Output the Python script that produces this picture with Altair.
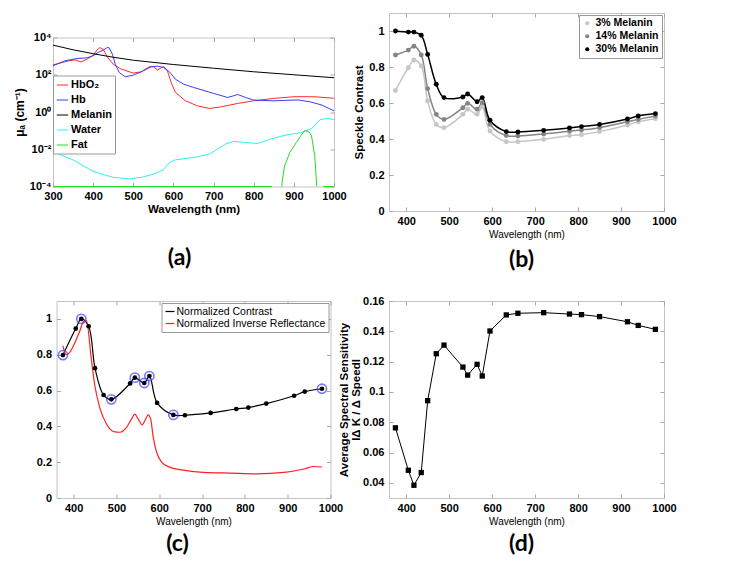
import altair as alt
import pandas as pd

# ---------------- Panel (a): absorption spectra (log10 of mu_a) ----------------
hbo2_wl = [300, 340, 355, 370, 385, 400, 410, 417, 425, 435, 450, 470, 500, 520, 540, 550, 560, 567,
           576, 585, 595, 605, 630, 660, 690, 720, 760, 800, 850, 900, 950, 1000]
hbo2_log = [2.53, 2.75, 2.8, 2.69, 2.84, 3.05, 3.34, 3.46, 3.37, 2.96, 2.57, 2.3, 2.09, 2.16, 2.43, 2.43,
            2.26, 2.34, 2.44, 2.21, 1.55, 1.05, 0.6, 0.33, 0.19, 0.28, 0.46, 0.6, 0.73, 0.82, 0.82, 0.74]
hb_wl = [300, 330, 360, 385, 400, 415, 425, 435, 440, 448, 455, 465, 480, 500, 520, 545, 560, 575, 590,
         605, 625, 650, 700, 735, 750, 760, 780, 800, 850, 910, 940, 970, 1000]
hb_log = [2.48, 2.75, 2.87, 2.91, 3.02, 3.23, 3.32, 3.46, 3.45, 3.1, 2.57, 2.12, 1.89, 1.98, 2.16, 2.43,
          2.46, 2.39, 2.16, 1.76, 1.5, 1.32, 1.0, 0.78, 0.87, 0.94, 0.78, 0.64, 0.6, 0.65, 0.55, 0.37, 0.06]
melanin_wl = [300, 350, 400, 450, 500, 600, 700, 800, 900, 1000]
melanin_log = [3.59, 3.34, 3.13, 2.94, 2.78, 2.55, 2.35, 2.16, 2.0, 1.84]
water_wl = [300, 350, 400, 450, 490, 520, 550, 575, 590, 605, 650, 690, 710, 730, 750, 780, 810, 840,
            880, 920, 945, 965, 985, 1000]
water_log = [-2.14, -2.57, -3.19, -3.51, -3.59, -3.51, -3.34, -3.1, -2.71, -2.57, -2.44, -2.26, -1.99,
             -1.72, -1.58, -1.64, -1.69, -1.46, -1.24, -1.1, -0.88, -0.42, -0.33, -0.42]
fat_wl = [300, 845, 870, 871, 877, 890, 906, 918, 927, 937, 944, 952, 956, 957, 973, 1000]
fat_log = [-4, -4, -4, -3.7, -2.9, -2.17, -1.64, -1.25, -1.0, -1.05, -1.28, -2.35, -3.7, -4, -4, -4]
fat_seg = [1, 1, 2, 2, 2, 2, 2, 2, 2, 2, 2, 2, 2, 2, 3, 3]

species = ["HbO₂", "Hb", "Melanin", "Water", "Fat"]
species_colors = ["#ff2b2b", "#3b3bff", "#000000", "#2ff0f0", "#22dd22"]
x_ticks_a = [300, 400, 500, 600, 700, 800, 900, 1000]
y_ticks_a = [-4, -2, 0, 2, 4]

# ---------------- Panels (b), (c), (d): measurement wavelengths ----------------
wl_pts = [375, 405, 418, 435, 450, 470, 488, 532, 543, 565, 577, 595, 633, 660, 720, 780, 808, 850,
          915, 940, 980]
x_ticks = [400, 500, 600, 700, 800, 900, 1000]
y_ticks_bc = [0, 0.2, 0.4, 0.6, 0.8, 1.0]
y_ticks_d = [0.04, 0.06, 0.08, 0.1, 0.12, 0.14, 0.16]
melanin_levels = ["3% Melanin", "14% Melanin", "30% Melanin"]
melanin_colors = ["#c6c6c6", "#858585", "#000000"]
sc_3 = [0.670, 0.796, 0.839, 0.806, 0.611, 0.481, 0.463, 0.537, 0.565, 0.537, 0.578, 0.444, 0.385,
        0.385, 0.398, 0.419, 0.424, 0.441, 0.478, 0.496, 0.513]
sc_14 = [0.867, 0.894, 0.915, 0.867, 0.680, 0.537, 0.509, 0.574, 0.598, 0.565, 0.602, 0.481, 0.419,
         0.417, 0.428, 0.443, 0.450, 0.463, 0.496, 0.509, 0.528]
sc_30 = [1.000, 0.994, 0.994, 0.976, 0.870, 0.704, 0.630, 0.633, 0.650, 0.607, 0.630, 0.504, 0.441,
         0.439, 0.448, 0.461, 0.469, 0.481, 0.511, 0.528, 0.541]

# (c)
norm_contrast = [0.798, 0.946, 1.000, 0.959, 0.725, 0.575, 0.551, 0.640, 0.672, 0.642, 0.681, 0.531,
                 0.464, 0.462, 0.475, 0.497, 0.505, 0.527, 0.571, 0.594, 0.610]
ring_flags = [1, 0, 1, 0, 0, 0, 1, 0, 1, 1, 1, 0, 1, 0, 0, 0, 0, 0, 0, 0, 1]
refl_wl = [375, 383, 390, 400, 414, 423, 430, 441, 449, 461, 477, 496, 508, 523, 535, 543, 551, 560,
           568, 574, 580, 586, 594, 605, 625, 656, 703, 766, 828, 891, 938, 961, 980]
refl_val = [0.85, 0.80, 0.81, 0.853, 0.93, 0.985, 0.99, 0.783, 0.635, 0.505, 0.412, 0.369, 0.367, 0.393,
            0.44, 0.468, 0.44, 0.408, 0.44, 0.464, 0.44, 0.338, 0.254, 0.202, 0.171, 0.156, 0.143, 0.139,
            0.135, 0.143, 0.162, 0.176, 0.173]
c_series = ["Normalized Contrast", "Normalized Inverse Reflectance"]

# (d)
sensitivity = [0.0763, 0.0483, 0.0384, 0.0468, 0.0942, 0.1252, 0.1309, 0.1164, 0.1111, 0.1182, 0.1105,
               0.1402, 0.1508, 0.1519, 0.1523, 0.1514, 0.1510, 0.1497, 0.1463, 0.1439, 0.1413]

# ---------------- build tables ----------------
rows = []
for name, wls, vals in [("HbO₂", hbo2_wl, hbo2_log), ("Hb", hb_wl, hb_log),
                        ("Melanin", melanin_wl, melanin_log), ("Water", water_wl, water_log)]:
    for w, v in zip(wls, vals):
        rows.append({"wl": w, "mu": v, "species": name, "seg": name})
for w, v, s in zip(fat_wl, fat_log, fat_seg):
    rows.append({"wl": w, "mu": v, "species": "Fat", "seg": f"Fat{s}"})
df_a = pd.DataFrame(rows)

rows = []
for lvl, vals in zip(melanin_levels, [sc_3, sc_14, sc_30]):
    for w, v in zip(wl_pts, vals):
        rows.append({"wl": w, "sc": v, "level": lvl})
df_b = pd.DataFrame(rows)

df_c_black = pd.DataFrame({"wl": wl_pts, "v": norm_contrast, "series": c_series[0]})
df_c_red = pd.DataFrame({"wl": refl_wl, "v": refl_val, "series": c_series[1]})
df_c_pts = pd.DataFrame({"wl": wl_pts, "v": norm_contrast, "ring": ring_flags})
df_d = pd.DataFrame({"wl": wl_pts, "s": sensitivity})

BOLD = "Liberation Sans"
LABEL_FONT = "Lato"
TICK_GRAY = "#a8a8a8"


def panel_title(txt, offset, dx):
    return alt.TitleParams(txt, orient="bottom", anchor="middle", frame="group", font=LABEL_FONT,
                           fontSize=23, fontWeight="bold", offset=offset, dx=dx, color="black")


def inner_ticks(df, xf, yf, xs, ys, xv, yv):
    """Two invisible layers whose axes draw MATLAB-style inward ticks on all four sides."""
    layers = []
    for xo, yo in [("bottom", "left"), ("top", "right")]:
        layers.append(alt.Chart(df).mark_point(opacity=0).encode(
            x=alt.X(xf, scale=xs, axis=alt.Axis(orient=xo, values=xv, labels=False, domain=False,
                                                ticks=True, tickSize=4, tickColor=TICK_GRAY,
                                                offset=-4, title=None, grid=False)),
            y=alt.Y(yf, scale=ys, axis=alt.Axis(orient=yo, values=yv, labels=False, domain=False,
                                                ticks=True, tickSize=4, tickColor=TICK_GRAY,
                                                offset=-4, title=None, grid=False))))
    return layers


def x_axis_small():
    return alt.Axis(values=x_ticks, format="d", title="Wavelength (nm)",
                    labelFont=BOLD, labelFontSize=11, labelFontWeight="bold", labelPadding=4,
                    titleFont=BOLD, titleFontSize=10, titleFontWeight="normal", titlePadding=3,
                    labelFlush=False)


x_scale_pts = alt.Scale(domain=[360, 1000], nice=False)

# ---------------- (a) ----------------
label_expr_a = ("'10' + (datum.value == 4 ? '⁴' : datum.value == 2 ? '²' : datum.value == 0 ? '⁰' : "
                "datum.value == -2 ? '⁻²' : '⁻⁴')")
a_xs = alt.Scale(domain=[300, 1000], nice=False)
a_ys = alt.Scale(domain=[-4, 4], nice=False)
a_lines = alt.Chart(df_a).mark_line(strokeWidth=1).encode(
    x=alt.X("wl:Q", scale=a_xs,
            axis=alt.Axis(orient="bottom", values=x_ticks_a, format="d", title="Wavelength (nm)",
                          labelFont=BOLD, labelFontSize=11, labelFontWeight="bold", labelPadding=4,
                          titleFont=BOLD, titleFontSize=11.5, titleFontWeight="bold", titlePadding=2,
                          labelFlush=False)),
    y=alt.Y("mu:Q", scale=a_ys,
            axis=alt.Axis(orient="left", values=y_ticks_a, labelExpr=label_expr_a, title="μₐ (cm⁻¹)",
                          labelFont=BOLD, labelFontSize=11, labelFontWeight="bold", labelPadding=2,
                          titleFont=BOLD, titleFontSize=12, titleFontWeight="bold", titlePadding=3)),
    color=alt.Color("species:N", scale=alt.Scale(domain=species, range=species_colors),
                    legend=alt.Legend(orient="none", legendX=0, legendY=38, title=None,
                                      symbolType="stroke", symbolSize=130, symbolStrokeWidth=1,
                                      labelFont=BOLD, labelFontSize=11, labelFontWeight="bold",
                                      labelColor="black", rowPadding=3, strokeColor="#999999",
                                      fillColor="white", padding=3, labelOffset=2)),
    detail="seg:N",
)
panel_a = alt.layer(
    a_lines, *inner_ticks(df_a, "wl:Q", "mu:Q", a_xs, a_ys, x_ticks_a, y_ticks_a)
).resolve_axis(x="independent", y="independent").properties(
    width=281, height=149, title=panel_title("(a)", 32, -14))

# ---------------- (b) ----------------
b_ys = alt.Scale(domain=[0, 1.1], nice=False)
b_x = alt.X("wl:Q", scale=x_scale_pts, axis=x_axis_small())
b_y = alt.Y("sc:Q", scale=b_ys,
            axis=alt.Axis(values=y_ticks_bc, format="~g", title="Speckle Contrast",
                          labelFont=BOLD, labelFontSize=11, labelFontWeight="bold", labelPadding=5,
                          titleFont=BOLD, titleFontSize=11.5, titleFontWeight="bold", titlePadding=4))
b_scale = alt.Scale(domain=melanin_levels, range=melanin_colors)
b_lines = alt.Chart(df_b).mark_line(interpolate="catmull-rom", strokeWidth=1.5).encode(
    x=b_x, y=b_y, color=alt.Color("level:N", scale=b_scale, legend=None))
b_pts = alt.Chart(df_b).mark_circle(size=24, opacity=1).encode(
    x=alt.X("wl:Q", scale=x_scale_pts, axis=None), y=alt.Y("sc:Q", scale=b_ys, axis=None),
    color=alt.Color("level:N", scale=b_scale,
                    legend=alt.Legend(orient="top-right", offset=2, title=None, symbolType="circle",
                                      symbolSize=18, labelFont=BOLD, labelFontSize=10.5,
                                      labelFontWeight="bold", labelColor="black", rowPadding=2,
                                      strokeColor="#999999", fillColor="white", padding=3,
                                      labelOffset=3)))
panel_b = alt.layer(
    b_lines, b_pts, *inner_ticks(df_b, "wl:Q", "sc:Q", x_scale_pts, b_ys, x_ticks, y_ticks_bc)
).resolve_scale(color="independent").resolve_axis(x="independent", y="independent").properties(
    width=275, height=198, title=panel_title("(b)", 10, -5))

# ---------------- (c) ----------------
c_ys = alt.Scale(domain=[0, 1.1], nice=False)
c_y = alt.Y("v:Q", scale=c_ys,
            axis=alt.Axis(values=y_ticks_bc, format="~g", title=None,
                          labelFont=BOLD, labelFontSize=11, labelFontWeight="bold", labelPadding=5))
c_x = alt.X("wl:Q", scale=x_scale_pts, axis=x_axis_small())
c_xn = alt.X("wl:Q", scale=x_scale_pts, axis=None)
c_yn = alt.Y("v:Q", scale=c_ys, axis=None)
c_color = alt.Color("series:N", scale=alt.Scale(domain=c_series, range=["#000000", "#ff2020"]),
                    legend=alt.Legend(orient="top-right", offset=2, title=None, symbolType="stroke",
                                      symbolSize=80, symbolStrokeWidth=1.2, labelFont=BOLD,
                                      labelFontSize=10.5, labelColor="black", rowPadding=1,
                                      labelLimit=300, strokeColor="#999999", fillColor="white",
                                      padding=3, labelOffset=1))
c_black = alt.Chart(df_c_black).mark_line(interpolate="catmull-rom", strokeWidth=1.2).encode(
    x=c_x, y=c_y, color=c_color)
c_red = alt.Chart(df_c_red).mark_line(interpolate="monotone", strokeWidth=1.2).encode(
    x=c_xn, y=c_yn, color=c_color)
c_rings = alt.Chart(df_c_pts).transform_filter("datum.ring == 1").mark_point(
    size=85, filled=False, color="#3f3fff", strokeWidth=1.6).encode(x=c_xn, y=c_yn)
c_dots = alt.Chart(df_c_pts).mark_circle(size=22, color="black", opacity=1).encode(x=c_xn, y=c_yn)
panel_c = alt.layer(
    c_black, c_red, c_rings, c_dots,
    *inner_ticks(df_c_pts, "wl:Q", "v:Q", x_scale_pts, c_ys, x_ticks, y_ticks_bc)
).resolve_axis(x="independent", y="independent").properties(
    width=274, height=197, title=panel_title("(c)", 7, -16))

# ---------------- (d) ----------------
d_ys = alt.Scale(domain=[0.03, 0.16], nice=False)
d_x = alt.X("wl:Q", scale=x_scale_pts, axis=x_axis_small())
d_y = alt.Y("s:Q", scale=d_ys,
            axis=alt.Axis(values=y_ticks_d, format="~g",
                          title=["Average Spectral Sensitivity", "IΔ K / Δ SpeedI"],
                          labelFont=BOLD, labelFontSize=11, labelFontWeight="bold", labelPadding=5,
                          titleFont=BOLD, titleFontSize=11.5, titleFontWeight="bold", titlePadding=1,
                          titleLineHeight=12))
d_line = alt.Chart(df_d).mark_line(color="black", strokeWidth=1).encode(x=d_x, y=d_y)
d_pts = alt.Chart(df_d).mark_square(size=28, color="black", opacity=1).encode(
    x=alt.X("wl:Q", scale=x_scale_pts, axis=None), y=alt.Y("s:Q", scale=d_ys, axis=None))
panel_d = alt.layer(
    d_line, d_pts, *inner_ticks(df_d, "wl:Q", "s:Q", x_scale_pts, d_ys, x_ticks, y_ticks_d)
).resolve_axis(x="independent", y="independent").properties(
    width=275, height=197, title=panel_title("(d)", 7, -5))

chart = alt.concat(
    panel_a, panel_b, panel_c, panel_d, columns=2,
    spacing={"row": 90, "column": 55}, bounds="flush", center=True,
).resolve_scale(color="independent", x="independent", y="independent").resolve_legend(
    color="independent"
).properties(
    padding={"left": 4, "top": 4, "right": 5, "bottom": 5}, background="white"
).configure_view(stroke="#c4c4c4", strokeWidth=1).configure_axis(
    domain=False, ticks=False, grid=False, labelColor="black", titleColor="black"
)

chart.save("out.html", embed_options={"renderer": "svg", "actions": False})
